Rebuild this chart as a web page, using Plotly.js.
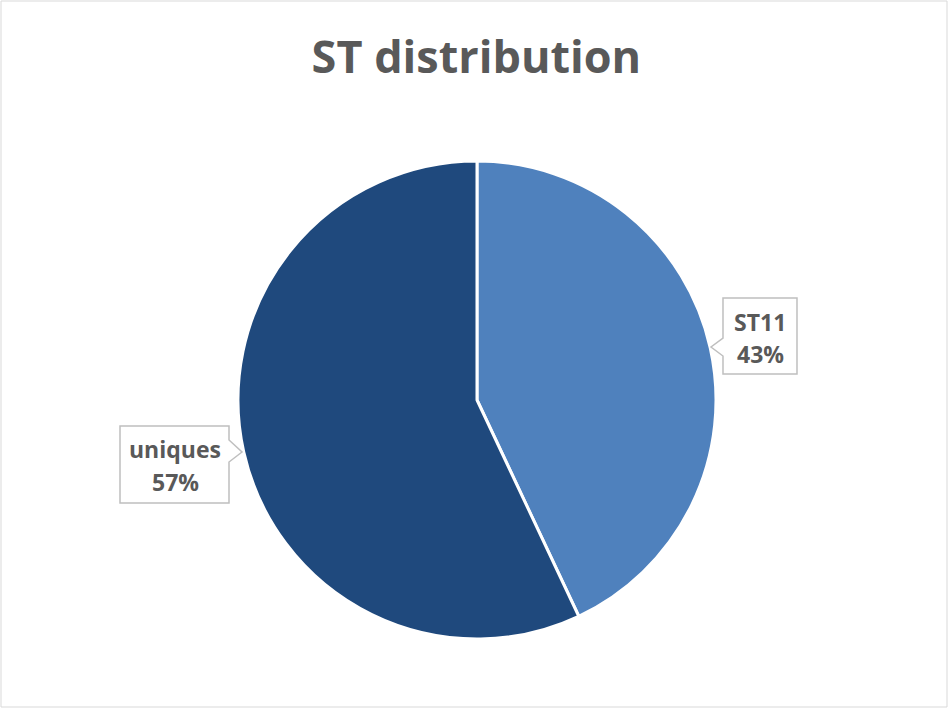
<!DOCTYPE html>
<html>
<head>
<meta charset="utf-8">
<script src="https://cdn.plot.ly/plotly-3.0.1.min.js"></script>
<style>html,body{margin:0;padding:0;background:#fff;}#chart{width:949px;height:709px;}</style>
</head>
<body>
<div id="chart"></div>
<script>
const categories = ["ST11", "uniques"];
const values = [43, 57];
const colors = ["#4F81BD", "#1F497D"];
const percentLabels = ["43%", "57%"];

const W = 949, H = 709;
const px = x => x / W;
const py = y => 1 - y / H;
function path(points) {
  return "M" + points.map(p => px(p[0]).toFixed(5) + "," + py(p[1]).toFixed(5)).join(" L") + " Z";
}

const trace = {
  type: "pie",
  labels: categories,
  values: values,
  sort: false,
  direction: "clockwise",
  rotation: 0,
  textinfo: "none",
  hoverinfo: "label+percent",
  marker: { colors: colors, line: { color: "#FFFFFF", width: 3 } },
  domain: { x: [px(238), px(716)], y: [py(639), py(161)] },
  showlegend: false
};

const calloutST = path([[723,298],[797,298],[797,374],[723,374],[723,356],[711,347],[723,338]]);
const calloutU = path([[120,426],[229,426],[229,440],[242,452],[229,462],[229,503],[120,503]]);

const labelFont = { family: "Open Sans, sans-serif", size: 23, color: "#595959" };
function lbl(x, y, t) {
  return { xref: "paper", yref: "paper", x: px(x), y: py(y), xanchor: "center", yanchor: "middle",
    showarrow: false, text: "<b>" + t + "</b>", font: labelFont };
}

const layout = {
  width: W, height: H,
  margin: { l: 0, r: 0, t: 0, b: 0 },
  paper_bgcolor: "#FFFFFF",
  title: {
    text: "<b>ST distribution</b>",
    font: { family: "Open Sans, sans-serif", size: 45, color: "#595959" },
    x: 0.502, xanchor: "center",
    y: py(57), yanchor: "middle"
  },
  shapes: [
    { type: "rect", xref: "paper", yref: "paper", x0: px(1), x1: px(947), y0: py(707), y1: py(1),
      line: { color: "#D9D9D9", width: 1 }, fillcolor: "rgba(0,0,0,0)" },
    { type: "path", xref: "paper", yref: "paper", path: calloutST,
      line: { color: "#BFBFBF", width: 1.5 }, fillcolor: "#FFFFFF" },
    { type: "path", xref: "paper", yref: "paper", path: calloutU,
      line: { color: "#BFBFBF", width: 1.5 }, fillcolor: "#FFFFFF" }
  ],
  annotations: [
    lbl(760, 322, categories[0]),
    lbl(760, 354, percentLabels[0]),
    lbl(175, 449, categories[1]),
    lbl(175, 482, percentLabels[1])
  ]
};

Plotly.newPlot("chart", [trace], layout, { displayModeBar: false, staticPlot: true });
</script>
</body>
</html>
